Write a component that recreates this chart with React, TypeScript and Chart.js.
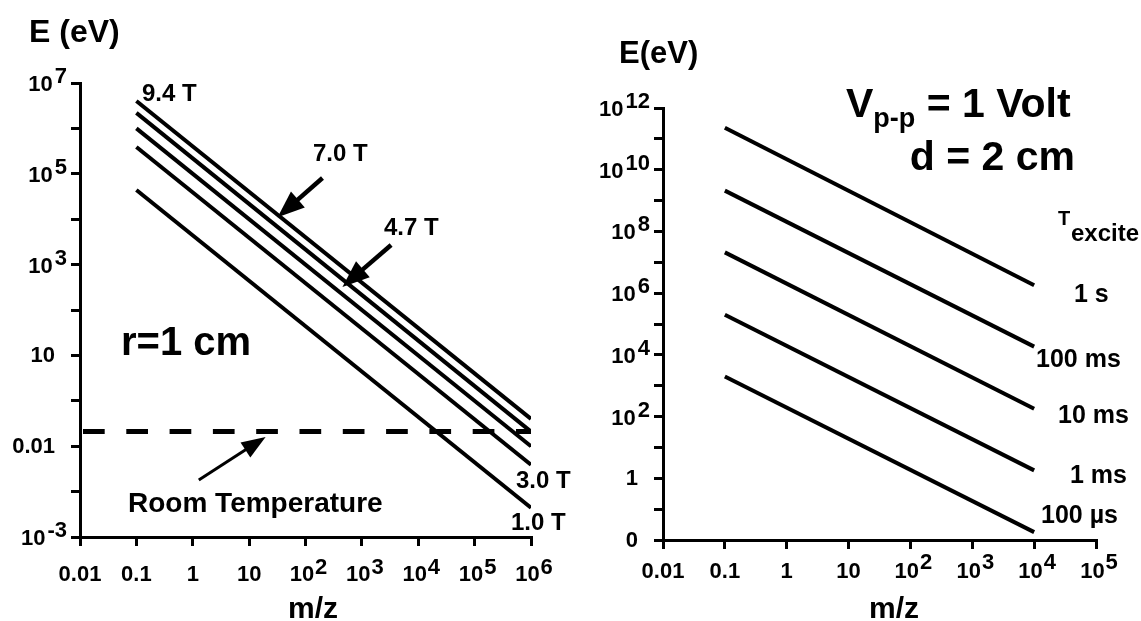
import React, { useEffect, useRef } from "react";
import { Chart, registerables } from "chart.js";
Chart.register(...registerables);

// ---------------- Left panel data (r = 1 cm) ----------------
const leftFields = ["9.4 T", "7.0 T", "4.7 T", "3.0 T", "1.0 T"];
const leftMz = [0.1, 1e6];
const leftE94 = [4.0e6, 0.4];
const leftE70 = [2.2e6, 0.21];
const leftE47 = [1.0e6, 0.1];
const leftE30 = [3.9e5, 0.039];
const leftE10 = [4.4e4, 0.0044];
const roomTempMz = [0.0113, 1e6];
const roomTempE = [0.21, 0.21];

const leftXTicks = [1e-2, 1e-1, 1, 10, 1e2, 1e3, 1e4, 1e5, 1e6];
const leftXTickBase = ["0.01", "0.1", "1", "10", "10", "10", "10", "10", "10"];
const leftXTickExp = ["", "", "", "", "2", "3", "4", "5", "6"];
const leftYTicks = [1e-3, 1e-2, 1e-1, 1, 10, 1e2, 1e3, 1e4, 1e5, 1e6, 1e7];
const leftYLabelValues = [1e-3, 1e-1, 10, 1e3, 1e5, 1e7];
const leftYLabelBase = ["10", "0.01", "10", "10", "10", "10"];
const leftYLabelExp = ["-3", "", "", "3", "5", "7"];

// ---------------- Right panel data (Vp-p = 1 V, d = 2 cm) ----------------
const rightTimes = ["1 s", "100 ms", "10 ms", "1 ms", "100 µs"];
const rightMz = [0.1, 1e4];
const rightE1s = [2.3e11, 1.8e6];
const rightE100ms = [2.1e9, 1.85e4];
const rightE10ms = [2.1e7, 180];
const rightE1ms = [2.0e5, 1.8];
const rightE100us = [2.0e3, 0.018];

const rightXTicks = [1e-2, 1e-1, 1, 10, 1e2, 1e3, 1e4, 1e5];
const rightXTickBase = ["0.01", "0.1", "1", "10", "10", "10", "10", "10"];
const rightXTickExp = ["", "", "", "", "2", "3", "4", "5"];
const rightYTicks = [1e-2, 1e-1, 1, 10, 1e2, 1e3, 1e4, 1e5, 1e6, 1e7, 1e8, 1e9, 1e10, 1e11, 1e12];
const rightYLabelValues = [1e-2, 1, 1e2, 1e4, 1e6, 1e8, 1e10, 1e12];
const rightYLabelBase = ["0", "1", "10", "10", "10", "10", "10", "10"];
const rightYLabelExp = ["", "", "2", "4", "6", "8", "10", "12"];

// annotation arrows in data coordinates [m/z, E]
const arrow70 = { from: [200, 8.1e4], to: [32, 1.1e4] };
const arrow47 = { from: [3300, 2700], to: [452, 322] };
const arrowRoom = { from: [1.28, 0.018], to: [19.6, 0.16] };

const SANS = '"Liberation Sans", Arial, Helvetica, sans-serif';
const TICK_FONT = `bold 22px ${SANS}`;

function drawArrow(ctx: CanvasRenderingContext2D, x1: number, y1: number, x2: number, y2: number, headLen: number, headW: number, lineW: number) {
  const a = Math.atan2(y2 - y1, x2 - x1);
  const bx = x2 - headLen * Math.cos(a);
  const by = y2 - headLen * Math.sin(a);
  ctx.save();
  ctx.strokeStyle = "#000";
  ctx.fillStyle = "#000";
  ctx.lineWidth = lineW;
  ctx.beginPath();
  ctx.moveTo(x1, y1);
  ctx.lineTo(bx + 2 * Math.cos(a), by + 2 * Math.sin(a));
  ctx.stroke();
  ctx.beginPath();
  ctx.moveTo(x2, y2);
  ctx.lineTo(bx + (headW / 2) * Math.sin(a), by - (headW / 2) * Math.cos(a));
  ctx.lineTo(bx - (headW / 2) * Math.sin(a), by + (headW / 2) * Math.cos(a));
  ctx.closePath();
  ctx.fill();
  ctx.restore();
}

function drawXLabels(chart: any, values: number[], bases: string[], exps: string[], dy: number, raise: number) {
  const ctx = chart.ctx as CanvasRenderingContext2D;
  const xs = chart.scales.x;
  const y0 = chart.chartArea.bottom + dy;
  ctx.save();
  ctx.font = TICK_FONT;
  ctx.fillStyle = "#000";
  ctx.textBaseline = "middle";
  ctx.textAlign = "left";
  values.forEach((v, i) => {
    const x = xs.getPixelForValue(v);
    const bw = ctx.measureText(bases[i]).width;
    const ew = exps[i] ? ctx.measureText(exps[i]).width + 1 : 0;
    const start = x - (bw + ew) / 2 + (exps[i] ? 3 : 0);
    ctx.fillText(bases[i], start, y0);
    if (exps[i]) ctx.fillText(exps[i], start + bw + 1, y0 - raise);
  });
  ctx.restore();
}

function drawYLabels(chart: any, values: number[], bases: string[], exps: string[]) {
  const ctx = chart.ctx as CanvasRenderingContext2D;
  const ys = chart.scales.y;
  const ax = chart.chartArea.left;
  ctx.save();
  ctx.font = TICK_FONT;
  ctx.fillStyle = "#000";
  ctx.textBaseline = "middle";
  values.forEach((v, i) => {
    const y = ys.getPixelForValue(v);
    if (exps[i]) {
      ctx.textAlign = "left";
      const ew = ctx.measureText(exps[i]).width;
      const bw = ctx.measureText(bases[i]).width;
      const right = ax - 13;
      ctx.fillText(exps[i], right - ew, y - 6);
      ctx.fillText(bases[i], right - ew - 2 - bw, y + 2);
    } else {
      ctx.textAlign = "right";
      ctx.fillText(bases[i], ax - 25, y + 1);
    }
  });
  ctx.restore();
}

function txt(ctx: CanvasRenderingContext2D, s: string, x: number, y: number, font: string, align: CanvasTextAlign = "left") {
  ctx.font = font;
  ctx.textAlign = align;
  ctx.textBaseline = "alphabetic";
  ctx.fillStyle = "#000";
  ctx.fillText(s, x, y);
}

function px(chart: any, p: number[]) {
  return [chart.scales.x.getPixelForValue(p[0]), chart.scales.y.getPixelForValue(p[1])];
}

const leftPlugin = {
  id: "leftDecor",
  afterDraw(chart: any) {
    const ctx = chart.ctx as CanvasRenderingContext2D;
    drawXLabels(chart, leftXTicks, leftXTickBase, leftXTickExp, 38, 7);
    drawYLabels(chart, leftYLabelValues, leftYLabelBase, leftYLabelExp);
    ctx.save();
    txt(ctx, "E (eV)", 29, 42, `bold 32px ${SANS}`);
    const f = `bold 24px ${SANS}`;
    txt(ctx, leftFields[0], 142, 101, f);
    txt(ctx, leftFields[1], 313, 161, f);
    txt(ctx, leftFields[2], 384, 235, f);
    txt(ctx, leftFields[3], 516, 488, f);
    txt(ctx, leftFields[4], 511, 530, f);
    txt(ctx, "r=1 cm", 121, 355, `bold 40px ${SANS}`);
    txt(ctx, "Room Temperature", 128, 512, `bold 28px ${SANS}`);
    txt(ctx, "m/z", 313, 618, `bold 30px ${SANS}`, "center");
    let a = px(chart, arrow70.from), b = px(chart, arrow70.to);
    drawArrow(ctx, a[0], a[1], b[0], b[1], 27, 21, 4.5);
    a = px(chart, arrow47.from); b = px(chart, arrow47.to);
    drawArrow(ctx, a[0], a[1], b[0], b[1], 27, 21, 4.5);
    a = px(chart, arrowRoom.from); b = px(chart, arrowRoom.to);
    drawArrow(ctx, a[0], a[1], b[0], b[1], 24, 18, 3);
    ctx.restore();
  },
};

const OFF = 570;
const rightPlugin = {
  id: "rightDecor",
  afterDraw(chart: any) {
    const ctx = chart.ctx as CanvasRenderingContext2D;
    drawXLabels(chart, rightXTicks, rightXTickBase, rightXTickExp, 32, 9);
    drawYLabels(chart, rightYLabelValues, rightYLabelBase, rightYLabelExp);
    ctx.save();
    txt(ctx, "E(eV)", 619 - OFF, 63, `bold 31px ${SANS}`);
    const big = `bold 41px ${SANS}`;
    ctx.font = big;
    let x = 846 - OFF;
    txt(ctx, "V", x, 117, big);
    ctx.font = big;
    x += ctx.measureText("V").width;
    const sub = `bold 27px ${SANS}`;
    txt(ctx, "p-p", x, 127, sub);
    ctx.font = sub;
    x += ctx.measureText("p-p").width;
    txt(ctx, " = 1 Volt", x, 117, big);
    txt(ctx, "d = 2 cm", 1075 - OFF, 170, big, "right");
    txt(ctx, "T", 1058 - OFF, 225, `bold 20px ${SANS}`);
    txt(ctx, "excite", 1071 - OFF, 241, `bold 24px ${SANS}`);
    const lf = `bold 25px ${SANS}`;
    txt(ctx, rightTimes[0], 1074 - OFF, 302, lf);
    txt(ctx, rightTimes[1], 1036 - OFF, 367, lf);
    txt(ctx, rightTimes[2], 1058 - OFF, 423, lf);
    txt(ctx, rightTimes[3], 1070 - OFF, 483, lf);
    txt(ctx, rightTimes[4], 1041 - OFF, 523, lf);
    txt(ctx, "m/z", 894 - OFF, 618, `bold 30px ${SANS}`, "center");
    ctx.restore();
  },
};

function axisOpts(min: number, max: number, ticks: number[], fitSize: number, horizontal: boolean) {
  return {
    type: "logarithmic" as const,
    position: horizontal ? ("bottom" as const) : ("left" as const),
    min,
    max,
    afterBuildTicks: (scale: any) => {
      scale.ticks = ticks.map((v) => ({ value: v }));
    },
    afterFit: (scale: any) => {
      if (horizontal) scale.height = fitSize;
      else scale.width = fitSize;
    },
    ticks: { display: false },
    grid: {
      drawOnChartArea: false,
      drawTicks: true,
      tickLength: 9,
      lineWidth: 3,
      tickWidth: 3,
      color: "#000",
      tickColor: "#000",
    },
    border: { display: true, width: 3, color: "#000" },
    title: { display: false },
  };
}

function lineDs(xs: number[], ys: number[], label: string, extra: any = {}) {
  return {
    label,
    data: xs.map((x, i) => ({ x, y: ys[i] })),
    borderColor: "#000",
    backgroundColor: "#000",
    borderWidth: 4,
    pointRadius: 0,
    fill: false,
    tension: 0,
    ...extra,
  };
}

function baseOptions(padTop: number, padRight: number) {
  return {
    responsive: false,
    animation: false as const,
    devicePixelRatio: 1,
    events: [] as any[],
    layout: { padding: { top: padTop, right: padRight, left: 0, bottom: 0 } },
    plugins: { legend: { display: false }, tooltip: { enabled: false }, title: { display: false } },
  };
}

export default function App() {
  const leftRef = useRef<HTMLCanvasElement>(null);
  const rightRef = useRef<HTMLCanvasElement>(null);

  useEffect(() => {
    const leftSeries = [leftE94, leftE70, leftE47, leftE30, leftE10];
    const left = new Chart(leftRef.current!, {
      type: "line",
      data: {
        datasets: [
          ...leftSeries.map((ys, i) => lineDs(leftMz, ys, leftFields[i])),
          lineDs(roomTempMz, roomTempE, "Room Temperature", { borderWidth: 5, borderDash: [21.7, 21.6] }),
        ],
      },
      options: {
        ...baseOptions(83, 69),
        scales: {
          x: axisOpts(1e-2, 1e6, leftXTicks, 84, true),
          y: axisOpts(1e-3, 1e7, leftYTicks, 80, false),
        },
      } as any,
      plugins: [leftPlugin],
    });

    const rightSeries = [rightE1s, rightE100ms, rightE10ms, rightE1ms, rightE100us];
    const right = new Chart(rightRef.current!, {
      type: "line",
      data: {
        datasets: rightSeries.map((ys, i) => lineDs(rightMz, ys, rightTimes[i])),
      },
      options: {
        ...baseOptions(108, 45),
        scales: {
          x: axisOpts(1e-2, 1e5, rightXTicks, 81, true),
          y: axisOpts(1e-2, 1e12, rightYTicks, 93, false),
        },
      } as any,
      plugins: [rightPlugin],
    });

    return () => {
      left.destroy();
      right.destroy();
    };
  }, []);

  return (
    <div style={{ position: "absolute", left: 0, top: 0, width: 1141, height: 621, background: "#fff", overflow: "hidden" }}>
      <canvas ref={leftRef} width={600} height={621} style={{ position: "absolute", left: 0, top: 0, width: 600, height: 621 }} />
      <canvas ref={rightRef} width={571} height={621} style={{ position: "absolute", left: 570, top: 0, width: 571, height: 621 }} />
    </div>
  );
}
